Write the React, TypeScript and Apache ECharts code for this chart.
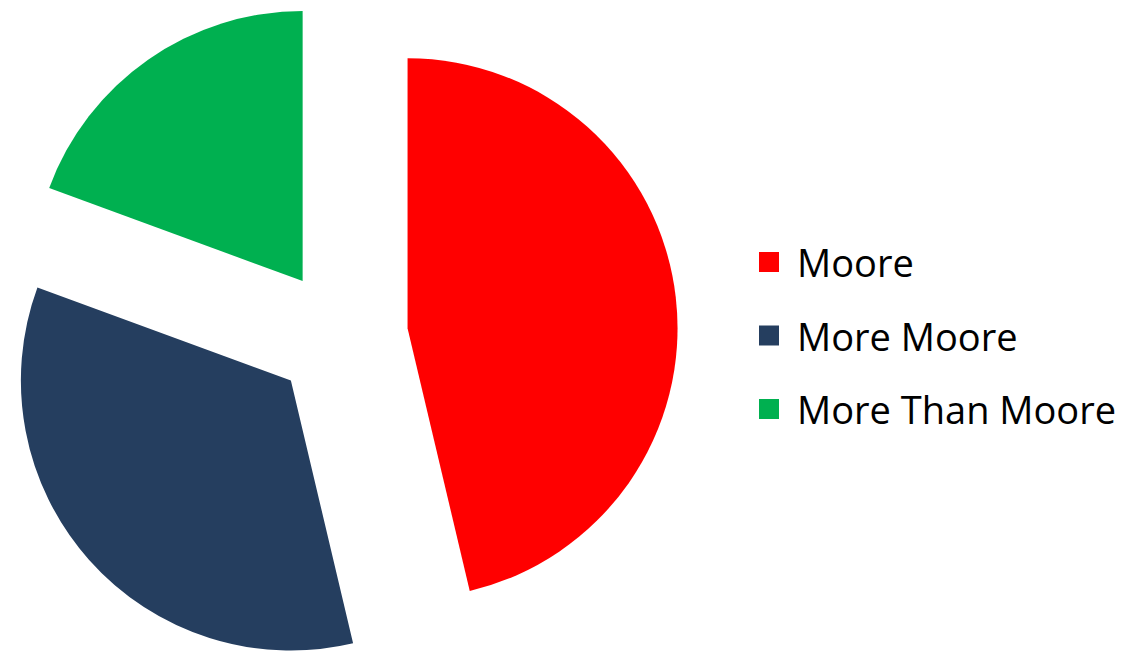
import React, { useEffect, useRef } from "react";
import * as echarts from "echarts";

const categories = ["Moore", "More Moore", "More Than Moore"];
const values = [46.3, 34.3, 19.4];
const colors = ["#FF0000", "#253E5F", "#00B050"];

export default function App() {
  const ref = useRef<HTMLDivElement>(null);
  useEffect(() => {
    if (!ref.current) return;
    const chart = echarts.init(ref.current, undefined, { renderer: "svg" });
    chart.setOption({
      animation: false,
      backgroundColor: "#FFFFFF",
      legend: {
        orient: "vertical",
        left: 759,
        top: 242,
        padding: 0,
        icon: "rect",
        itemWidth: 20,
        itemHeight: 20,
        itemGap: 33.5,
        selectedMode: false,
        data: categories,
        textStyle: {
          fontFamily: "Open Sans",
          fontSize: 38,
          lineHeight: 40,
          color: "#000000",
          padding: [0, 0, 0, 13],
        },
      },
      series: [
        {
          type: "pie",
          center: [341, 336],
          radius: 270,
          startAngle: 90,
          clockwise: true,
          selectedMode: "multiple",
          selectedOffset: 67,
          label: { show: false },
          labelLine: { show: false },
          emphasis: { disabled: true },
          itemStyle: { borderWidth: 0 },
          data: categories.map((name, i) => ({
            name,
            value: values[i],
            selected: true,
            itemStyle: { color: colors[i] },
            select: { itemStyle: { color: colors[i], borderWidth: 0 } },
          })),
        },
      ],
    });
    return () => chart.dispose();
  }, []);
  return (
    <div
      ref={ref}
      style={{ position: "fixed", left: 0, top: 0, width: 1121, height: 655 }}
    />
  );
}
